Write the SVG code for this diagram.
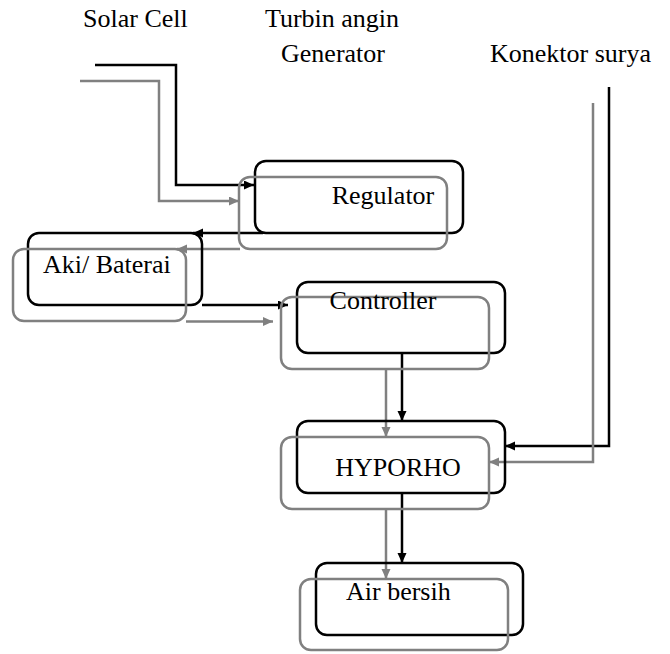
<svg xmlns="http://www.w3.org/2000/svg" width="670" height="654" viewBox="0 0 670 654">
<defs>
<marker id="ab" markerUnits="userSpaceOnUse" markerWidth="11" markerHeight="10" refX="10" refY="4.5" orient="auto"><path d="M0,0 L10,4.5 L0,9 z" fill="#000"/></marker>
<marker id="ag" markerUnits="userSpaceOnUse" markerWidth="11" markerHeight="10" refX="10" refY="4.5" orient="auto"><path d="M0,0 L10,4.5 L0,9 z" fill="#808080"/></marker>
<style>
.t{font-family:"Liberation Serif","Times New Roman",serif;font-size:26px;fill:#000}
.bb{fill:none;stroke:#000;stroke-width:2.5}
.gb{fill:none;stroke:#808080;stroke-width:2.5}
.bl{fill:none;stroke:#000;stroke-width:2.5;marker-end:url(#ab)}
.gl{fill:none;stroke:#808080;stroke-width:2.5;marker-end:url(#ag)}
</style>
</defs>
<rect width="670" height="654" fill="#fff"/>
<g id="labels">
<text class="t" x="83" y="27">Solar Cell</text>
<text class="t" x="332" y="27" text-anchor="middle">Turbin angin</text>
<text class="t" x="333" y="62" text-anchor="middle">Generator</text>
<text class="t" x="490" y="62">Konektor surya</text>
</g>
<g id="connectors">
<path class="bl" d="M95,65 H176 V185 H254"/>
<path class="gl" d="M80,81 H159 V201 H239"/>
<path class="bl" d="M263,233 H193"/>
<path class="gl" d="M240,249 H177"/>
<path class="bl" d="M202,305 H288"/>
<path class="gl" d="M186,321.5 H273"/>
<path class="bl" d="M402,353 V421"/>
<path class="gl" d="M386,369 V437"/>
<path class="bl" d="M609,87 V446 H505"/>
<path class="gl" d="M593,103 V462 H489"/>
<path class="bl" d="M402,493 V563"/>
<path class="gl" d="M386,509 V579"/>
</g>
<g id="regulator">
<rect class="bb" x="255" y="161" width="208" height="72" rx="11"/>
<rect class="gb" x="239" y="177" width="208" height="72" rx="11"/>
<text class="t" x="383" y="204" text-anchor="middle">Regulator</text>
</g>
<g id="aki">
<rect class="bb" x="28" y="233" width="174" height="72" rx="11"/>
<rect class="gb" x="13" y="249" width="173" height="72" rx="11"/>
<text class="t" x="43" y="273">Aki/ Baterai</text>
</g>
<g id="controller">
<rect class="bb" x="297" y="282" width="208" height="71" rx="11"/>
<rect class="gb" x="281" y="297" width="208" height="72" rx="11"/>
<text class="t" x="383" y="309" text-anchor="middle">Controller</text>
</g>
<g id="hyporho">
<rect class="bb" x="297" y="421" width="208" height="72" rx="11"/>
<rect class="gb" x="281" y="437" width="208" height="72" rx="11"/>
<text class="t" x="398" y="476" text-anchor="middle">HYPORHO</text>
</g>
<g id="air-bersih">
<rect class="bb" x="316" y="563" width="207" height="72" rx="11"/>
<rect class="gb" x="300" y="579" width="208" height="71" rx="11"/>
<text class="t" x="346" y="600">Air bersih</text>
</g>
</svg>
